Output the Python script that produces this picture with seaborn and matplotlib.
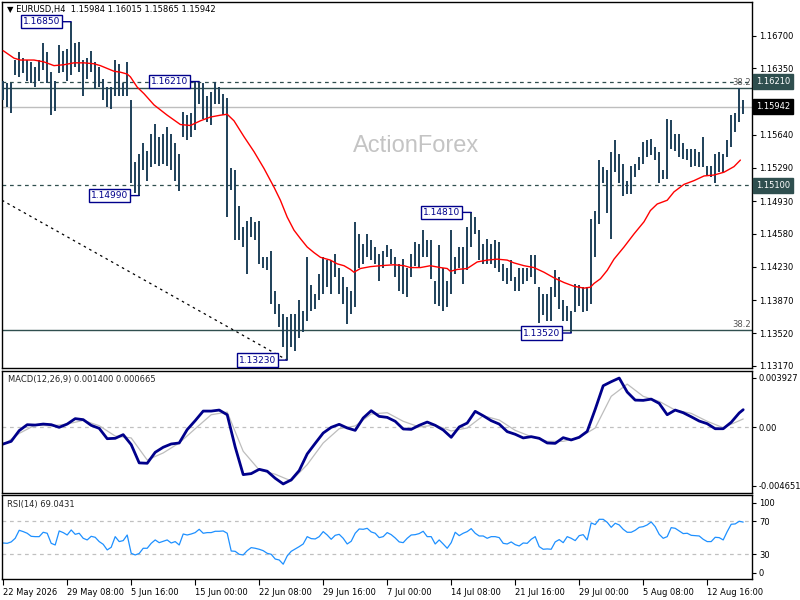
import numpy as np
import matplotlib
matplotlib.use("Agg")
import matplotlib.pyplot as plt
import seaborn as sns

# EURUSD H4 chart, bars grouped by two (8 hour steps)
highs = [1.1622, 1.1619, 1.1619, 1.1644, 1.1653, 1.1646, 1.1644, 1.1642, 1.1637, 1.1644,
         1.1662, 1.1653, 1.1631, 1.1622, 1.1660, 1.1654, 1.1656, 1.1685, 1.1662, 1.1663,
         1.1644, 1.1646, 1.1654, 1.1642, 1.1637, 1.1624, 1.1615, 1.1615, 1.1644, 1.1640,
         1.1619, 1.1642, 1.1601, 1.1535, 1.1544, 1.1555, 1.1547, 1.1565, 1.1576, 1.1562,
         1.1565, 1.1572, 1.1565, 1.1555, 1.1544, 1.1588, 1.1585, 1.1587, 1.1621, 1.1621,
         1.1619, 1.1605, 1.1610, 1.1621, 1.1615, 1.1608, 1.1603, 1.1528, 1.1526, 1.1488,
         1.1465, 1.1472, 1.1476, 1.1471, 1.1472, 1.1433, 1.1433, 1.1440, 1.1397, 1.1383,
         1.1372, 1.1369, 1.1372, 1.1372, 1.1387, 1.1376, 1.1433, 1.1403, 1.1394, 1.1415,
         1.1433, 1.1430, 1.1430, 1.1437, 1.1422, 1.1412, 1.1401, 1.1397, 1.1471, 1.1458,
         1.1447, 1.1458, 1.1451, 1.1444, 1.1437, 1.1440, 1.1446, 1.1442, 1.1433, 1.1426,
         1.1431, 1.1422, 1.1437, 1.1449, 1.1447, 1.1462, 1.1451, 1.1451, 1.1408, 1.1446,
         1.1422, 1.1408, 1.1462, 1.1433, 1.1444, 1.1444, 1.1465, 1.1481, 1.1476, 1.1462,
         1.1447, 1.1453, 1.1447, 1.1451, 1.1449, 1.1426, 1.1422, 1.1430, 1.1412, 1.1422,
         1.1422, 1.1422, 1.1435, 1.1435, 1.1401, 1.1394, 1.1394, 1.1401, 1.1419, 1.1412,
         1.1387, 1.1381, 1.1376, 1.1404, 1.1403, 1.1401, 1.1401, 1.1474, 1.1483, 1.1537,
         1.1530, 1.1526, 1.1546, 1.1558, 1.1544, 1.1533, 1.1515, 1.1531, 1.1533, 1.1540,
         1.1556, 1.1558, 1.1560, 1.1551, 1.1546, 1.1526, 1.1581, 1.1580, 1.1565, 1.1565,
         1.1555, 1.1549, 1.1549, 1.1549, 1.1546, 1.1562, 1.1531, 1.1531, 1.1544, 1.1546,
         1.1544, 1.1558, 1.1585, 1.1587, 1.1614, 1.16015]
lows = [1.1601, 1.1594, 1.1587, 1.1628, 1.1626, 1.1630, 1.1622, 1.1619, 1.1615, 1.1622,
        1.1633, 1.1619, 1.1585, 1.1590, 1.1630, 1.1631, 1.1622, 1.1628, 1.1637, 1.1631,
        1.1606, 1.1624, 1.1631, 1.1613, 1.1615, 1.1601, 1.1594, 1.1592, 1.1605, 1.1606,
        1.1606, 1.1606, 1.1513, 1.1502, 1.1499, 1.1526, 1.1515, 1.1530, 1.1533, 1.1531,
        1.1533, 1.1531, 1.1526, 1.1515, 1.1504, 1.1562, 1.1558, 1.1562, 1.1569, 1.1597,
        1.1581, 1.1578, 1.1574, 1.1597, 1.1597, 1.1585, 1.1476, 1.1505, 1.1451, 1.1451,
        1.1444, 1.1415, 1.1455, 1.1451, 1.1426, 1.1422, 1.1419, 1.1383, 1.1372, 1.1358,
        1.1337, 1.1323, 1.1337, 1.1333, 1.1347, 1.1353, 1.1365, 1.1376, 1.1378, 1.1387,
        1.1394, 1.1401, 1.1394, 1.1412, 1.1394, 1.1383, 1.1362, 1.1372, 1.1380, 1.1422,
        1.1426, 1.1433, 1.1430, 1.1426, 1.1408, 1.1422, 1.1433, 1.1426, 1.1412, 1.1397,
        1.1394, 1.1390, 1.1412, 1.1424, 1.1422, 1.1433, 1.1433, 1.1410, 1.1383, 1.1381,
        1.1376, 1.1380, 1.1394, 1.1415, 1.1422, 1.1404, 1.1419, 1.1444, 1.1458, 1.1430,
        1.1426, 1.1426, 1.1426, 1.1422, 1.1417, 1.1408, 1.1404, 1.1408, 1.1397, 1.1397,
        1.1404, 1.1408, 1.1412, 1.1404, 1.1363, 1.1371, 1.1365, 1.1365, 1.1390, 1.1378,
        1.1365, 1.1365, 1.1352, 1.1374, 1.1381, 1.1374, 1.1376, 1.1383, 1.1433, 1.1469,
        1.1512, 1.1480, 1.1453, 1.1524, 1.1513, 1.1499, 1.1501, 1.1501, 1.1519, 1.1526,
        1.1533, 1.1540, 1.1542, 1.1537, 1.1513, 1.1517, 1.1517, 1.1549, 1.1547, 1.1540,
        1.1538, 1.1537, 1.1530, 1.1531, 1.1530, 1.1530, 1.1521, 1.1519, 1.1512, 1.1524,
        1.1524, 1.1540, 1.1551, 1.1567, 1.1578, 1.15865]

# red moving average, read at these bar positions
ma_bars = [0.0, 2.7, 4.3, 7.7, 10.2, 12.7, 15.2, 17.7, 20.2, 22.7,
           24.3, 26.0, 27.7, 29.3, 31.0, 31.8, 33.5, 35.2, 37.7, 41.0,
           44.3, 46.8, 49.3, 51.8, 54.3, 56.0, 57.7, 60.2, 62.7, 65.2,
           67.7, 69.3, 71.0, 72.7, 74.3, 76.0, 77.7, 79.3, 81.8, 83.5,
           85.2, 86.8, 87.7, 89.3, 91.8, 94.3, 97.7, 100.2, 101.8, 104.3,
           106.8, 109.3, 111.0, 111.8, 113.5, 116.0, 118.5, 121.0, 123.5, 126.0,
           127.7, 130.2, 132.7, 135.2, 137.7, 140.2, 142.7, 145.2, 146.8, 147.7,
           149.3, 151.0, 152.7, 155.2, 157.7, 160.2, 161.8, 163.5, 166.0, 167.7,
           170.2, 172.7, 175.2, 177.7, 180.2, 182.7, 184.3]
ma_values = [1.1654, 1.1646, 1.1644, 1.1644, 1.1642, 1.1638, 1.1639, 1.1641, 1.1641, 1.1640,
             1.1638, 1.1635, 1.1632, 1.1631, 1.1629, 1.1626, 1.1615, 1.1608, 1.1596, 1.1585,
             1.1575, 1.1574, 1.1579, 1.1583, 1.1585, 1.1586, 1.1579, 1.1562, 1.1546, 1.1528,
             1.1508, 1.1494, 1.1476, 1.1462, 1.1453, 1.1444, 1.1438, 1.1433, 1.1430, 1.1426,
             1.1424, 1.1420, 1.1417, 1.1421, 1.1423, 1.1424, 1.1425, 1.1424, 1.1422, 1.1422,
             1.1424, 1.1422, 1.1421, 1.1418, 1.1420, 1.1421, 1.1428, 1.1430, 1.1431, 1.1430,
             1.1427, 1.1424, 1.1422, 1.1417, 1.1411, 1.1406, 1.1402, 1.1400, 1.1401, 1.1405,
             1.1410, 1.1419, 1.1431, 1.1444, 1.1458, 1.1471, 1.1483, 1.1490, 1.1494, 1.1503,
             1.1511, 1.1515, 1.1520, 1.1521, 1.1524, 1.1530, 1.1537]

# MACD main line every 2 bars, then the last bar
macd_step = 2
macd_values = [-0.00132, -0.00111, -0.00026, 0.00021, 0.00018, 0.00026, 0.00021, 0.00000, 0.00026, 0.00069,
               0.00061, 0.00016, -0.00008, -0.00090, -0.00087, -0.00058, -0.00137, -0.00282, -0.00285, -0.00198,
               -0.00158, -0.00132, -0.00124, -0.00018, 0.00053, 0.00129, 0.00129, 0.00137, 0.00100, -0.00156,
               -0.00375, -0.00367, -0.00333, -0.00348, -0.00404, -0.00449, -0.00417, -0.00343, -0.00211, -0.00127,
               -0.00045, 0.00000, 0.00024, -0.00005, -0.00024, 0.00074, 0.00132, 0.00087, 0.00079, 0.00048,
               -0.00013, -0.00016, 0.00016, 0.00042, 0.00016, -0.00021, -0.00079, 0.00003, 0.00034, 0.00127,
               0.00092, 0.00053, 0.00026, -0.00034, -0.00055, -0.00084, -0.00074, -0.00087, -0.00124, -0.00127,
               -0.00082, -0.00100, -0.00079, -0.00032, 0.00143, 0.00330, 0.00362, 0.00391, 0.00280, 0.00216,
               0.00214, 0.00224, 0.00190, 0.00100, 0.00137, 0.00116, 0.00084, 0.00050, 0.00029, -0.00011,
               -0.00011, 0.00040, 0.00114]
macd_last = 0.001400

# signal line every 4 bars, then the last bar
signal_step = 4
signal_values = [-0.00140, -0.00048, 0.00018, 0.00011, 0.00026, 0.00055, 0.00013, -0.00069, -0.00084, -0.00259,
                 -0.00203, -0.00124, -0.00011, 0.00100, 0.00121, -0.00190, -0.00338, -0.00372, -0.00425, -0.00296,
                 -0.00124, -0.00011, 0.00011, 0.00106, 0.00116, 0.00048, 0.00003, 0.00018, -0.00029, -0.00005,
                 0.00092, 0.00058, -0.00024, -0.00074, -0.00111, -0.00111, -0.00082, -0.00005, 0.00246, 0.00343,
                 0.00246, 0.00206, 0.00137, 0.00111, 0.00048, -0.00003]
signal_last = 0.000665

rsi_values = [43.7, 43.3, 45.0, 49.4, 59.1, 57.5, 55.5, 51.8, 51.4, 51.4,
              56.7, 55.5, 43.3, 41.3, 58.3, 56.3, 53.4, 59.5, 54.2, 55.5,
              49.4, 47.4, 51.8, 50.6, 45.4, 42.1, 35.3, 38.5, 51.4, 45.4,
              46.6, 53.4, 31.2, 29.2, 31.0, 37.3, 37.3, 43.3, 47.4, 44.1,
              45.8, 47.4, 43.7, 45.4, 41.3, 54.6, 53.4, 54.6, 56.3, 60.3,
              55.5, 56.3, 56.3, 57.9, 57.9, 58.3, 55.5, 34.0, 33.6, 30.0,
              29.2, 34.4, 38.1, 37.3, 36.1, 34.4, 31.2, 30.0, 24.3, 23.1,
              18.0, 28.0, 33.6, 36.5, 39.3, 42.5, 51.4, 49.0, 48.6, 51.4,
              57.5, 53.4, 48.2, 53.0, 54.2, 49.4, 42.5, 45.8, 55.5, 60.7,
              60.3, 61.5, 57.1, 55.5, 50.2, 51.4, 56.3, 53.8, 49.8, 45.0,
              44.1, 49.4, 53.4, 53.8, 55.1, 57.9, 51.4, 51.4, 42.5, 47.4,
              42.5, 37.3, 44.1, 56.7, 52.6, 55.5, 57.5, 61.1, 55.5, 52.2,
              52.2, 49.4, 51.4, 51.4, 50.2, 43.3, 42.5, 45.0, 41.7, 40.1,
              43.7, 43.3, 48.2, 51.4, 39.3, 36.1, 36.5, 36.1, 45.0, 47.8,
              44.1, 51.4, 49.4, 46.6, 52.6, 53.8, 47.4, 68.0, 66.0, 72.4,
              72.4, 68.8, 62.7, 67.6, 65.6, 60.3, 56.7, 56.7, 59.1, 62.7,
              63.5, 65.6, 69.2, 63.5, 54.2, 49.4, 51.4, 62.3, 61.5, 58.3,
              55.1, 55.5, 53.0, 52.6, 52.2, 48.2, 45.4, 45.4, 50.6, 50.2,
              47.4, 57.5, 66.4, 66.8, 70.0, 69.0431]

# time axis: one label every 16 grouped bars
date_labels = ["22 May 2026", "29 May 08:00", "5 Jun 16:00", "15 Jun 00:00", "22 Jun 08:00",
               "29 Jun 16:00", "7 Jul 00:00", "14 Jul 08:00", "21 Jul 16:00", "29 Jul 00:00",
               "5 Aug 08:00", "12 Aug 16:00"]
label_step = 16

price_ticks = [1.16700, 1.16350, 1.15990, 1.15640, 1.15290, 1.14930, 1.14580, 1.14230, 1.13870, 1.13520, 1.13170]

# marked highs / lows (bar, price)
swing_labels = [(17, 1.1685), (49, 1.1621), (34, 1.1499), (71, 1.1323), (117, 1.1481), (142, 1.1352)]
level_dashed = [1.16210, 1.15100]
level_fibo = [1.16137, 1.13549]
last_price = 1.15942
trend_start = (-0.3, 1.1494)
trend_end = (71, 1.1323)

sns.set_style("white")
plt.rcParams['font.family'] = ['DejaVu Sans']

bar_col = '#1E4059'
navy = '#00008B'
slate = '#2F4F4F'

fig = plt.figure(figsize=(8, 6), dpi=100)
ax = fig.add_axes([0.0025, 0.3867, 0.9375, 0.61])
ax_macd = fig.add_axes([0.0025, 0.1783, 0.9375, 0.2038])
ax_rsi = fig.add_axes([0.0025, 0.0345, 0.9375, 0.14])

n = len(highs)
x = np.arange(n)
xlim = (-0.3, 187.2)

for a in (ax, ax_macd, ax_rsi):
    for s in a.spines.values():
        s.set_color('black')
        s.set_linewidth(1)
    a.yaxis.tick_right()
    a.tick_params(axis='y', which='both', length=3, width=0.8, pad=2,
                  labelsize=6, colors='black', left=False, right=True)

# --- price panel ---
ax.vlines(x, lows, highs, color=bar_col, linewidth=1.4, zorder=3)

sns.lineplot(x=ma_bars, y=ma_values, ax=ax, color='red', linewidth=1.0, zorder=4)

for lv in level_dashed:
    ax.axhline(lv, color=slate, linewidth=0.9, linestyle=(0, (3, 3)), zorder=2)
for lv in level_fibo:
    ax.axhline(lv, color=slate, linewidth=1.0, zorder=2)
    ax.text(186.9, lv + 0.0001, "38.2", fontsize=6, color='#555555', ha='right', va='bottom')
ax.axhline(last_price, color='#BEBEBE', linewidth=1.0, zorder=2)
ax.plot([trend_start[0], trend_end[0]], [trend_start[1], trend_end[1]],
        color='black', linewidth=0.9, linestyle=(0, (2, 3)), zorder=2)

ax.set_ylim(1.13146, 1.17061)
ax.set_yticks(price_ticks)
ax.set_yticklabels([f"{v:.5f}" for v in price_ticks])

for b, p in swing_labels:
    ax.annotate(f"{p:.5f}", xy=(b, p), xytext=(-11, 0), textcoords='offset pixels',
                ha='right', va='center', fontsize=6.5, color=navy, zorder=6,
                bbox=dict(boxstyle='square,pad=0.25', fc='white', ec=navy, lw=1),
                arrowprops=dict(arrowstyle='-', color=navy, lw=1, shrinkA=0, shrinkB=0))

# boxes on the price scale
for val, bg in [(1.16210, slate), (last_price, 'black'), (1.15100, slate)]:
    ax.text(1.0055, val, f"{val:.5f}", transform=ax.get_yaxis_transform(), fontsize=6,
            color='white', ha='left', va='center', clip_on=False, zorder=7,
            bbox=dict(boxstyle='square,pad=0.35', fc=bg, ec=bg))

ax.text(0.0067, 0.992, "\u25bc EURUSD,H4  1.15984 1.16015 1.15865 1.15942", transform=ax.transAxes,
        fontsize=6, ha='left', va='top', color='black')
ax.text(0.552, 0.607, "ActionForex", transform=ax.transAxes, fontsize=17,
        family='Liberation Sans', color='#C4C4C4', ha='center', va='center', zorder=1)

# --- MACD panel ---
ax_macd.axhline(0, color='#C0C0C0', linewidth=0.9, linestyle=(0, (3, 3)))
macd_x = list(np.arange(len(macd_values)) * macd_step) + [n - 1]
sig_x = list(np.arange(len(signal_values)) * signal_step) + [n - 1]
sns.lineplot(x=sig_x, y=signal_values + [signal_last], ax=ax_macd, color='#BDBDBD', linewidth=0.9)
sns.lineplot(x=macd_x, y=macd_values + [macd_last], ax=ax_macd, color='#00008B', linewidth=2.0)
ax_macd.set_ylim(-0.00521, 0.00449)
ax_macd.set_yticks([0.003927, 0.0, -0.004651])
ax_macd.set_yticklabels(["0.003927", "0.00", "-0.004651"])
ax_macd.text(0.0077, 0.967, "MACD(12,26,9) 0.001400 0.000665", transform=ax_macd.transAxes,
             fontsize=6, ha='left', va='top')

# --- RSI panel ---
for lv in (30, 70):
    ax_rsi.axhline(lv, color='#C0C0C0', linewidth=0.9, linestyle=(0, (3, 3)))
sns.lineplot(x=x, y=rsi_values, ax=ax_rsi, color='#1E90FF', linewidth=0.9)
ax_rsi.set_ylim(-0.3, 101.5)
ax_rsi.set_yticks([7.7, 30, 70, 92.5])
ax_rsi.set_yticklabels(["0", "30", "70", "100"])
ax_rsi.text(0.0067, 0.94, "RSI(14) 69.0431", transform=ax_rsi.transAxes,
            fontsize=6, ha='left', va='top')

for a in (ax, ax_macd, ax_rsi):
    a.set_xlabel("")
    a.set_ylabel("")
    a.set_xlim(*xlim)
    a.set_xticks([])

tick_pos = [label_step * k - 0.1 for k in range(len(date_labels))]
ax_rsi.set_xticks(tick_pos)
ax_rsi.set_xticklabels(date_labels, ha='left', fontsize=6)
ax_rsi.tick_params(axis='x', bottom=True, length=4, width=0.8, pad=2, colors='black')

fig.savefig("out.png", dpi=100)
